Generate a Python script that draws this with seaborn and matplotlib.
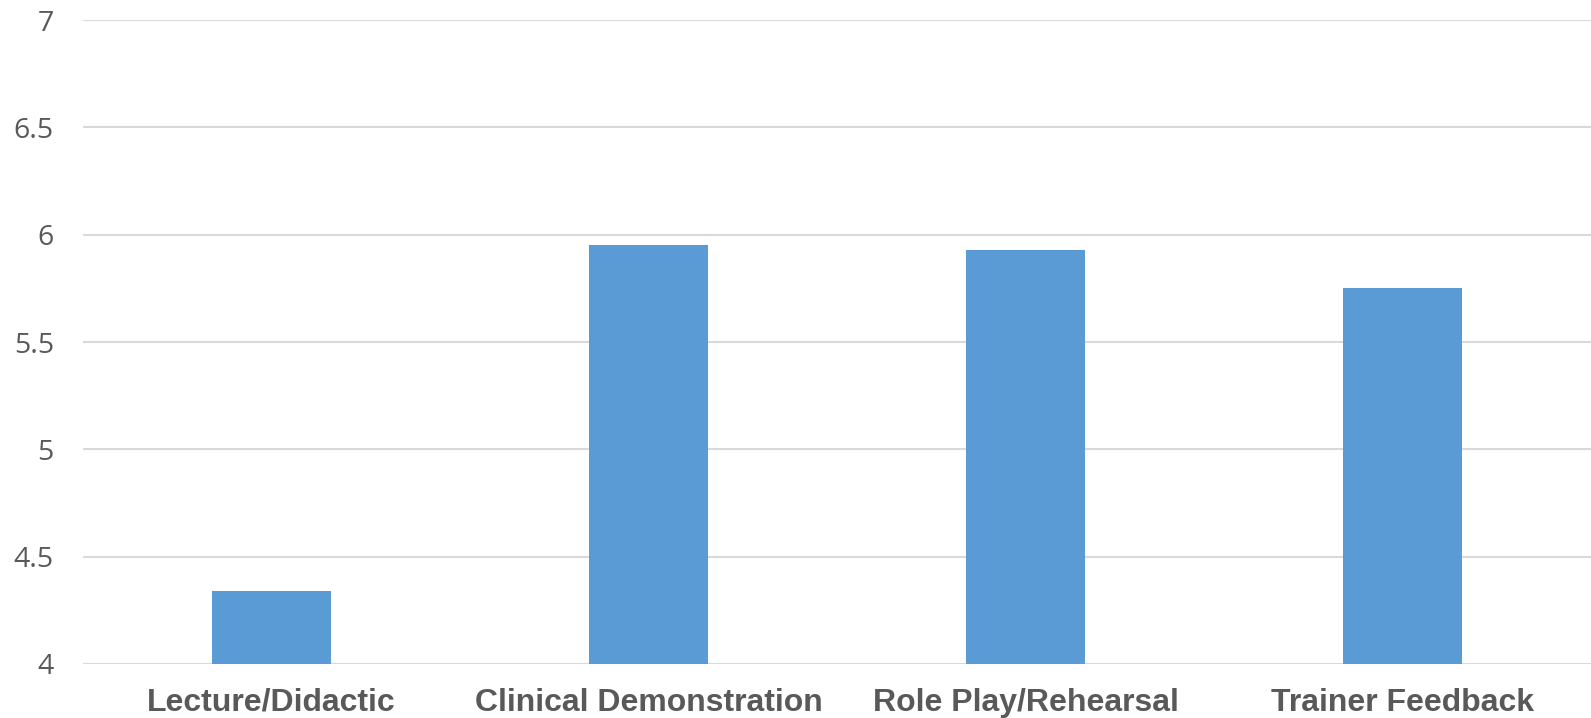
import matplotlib
matplotlib.use("Agg")
import matplotlib.pyplot as plt
import seaborn as sns
import pandas as pd

categories = ["Lecture/Didactic", "Clinical Demonstration", "Role Play/Rehearsal", "Trainer Feedback"]
scores = [4.34, 5.95, 5.93, 5.75]
y_ticks = [4, 4.5, 5, 5.5, 6, 6.5, 7]
y_tick_labels = ["4", "4.5", "5", "5.5", "6", "6.5", "7"]

sns.set_theme(style="white")
plt.rcParams["font.family"] = ["Open Sans", "DejaVu Sans"]

df = pd.DataFrame({"method": categories, "score": scores})

fig = plt.figure(figsize=(15.91, 7.18), dpi=100)
ax = fig.add_axes([83 / 1591, 54 / 718, 1508 / 1591, 644 / 718])

sns.barplot(data=df, x="method", y="score", color="#5B9BD5", saturation=1,
            width=0.313, linewidth=0, ax=ax, zorder=3)

ax.set_ylim(4, 7)
ax.set_xlim(-0.5, 3.5)
ax.set_yticks(y_ticks)
ax.set_yticklabels(y_tick_labels)
ax.yaxis.grid(True, color="#D9D9D9", linewidth=1.5, zorder=0)
ax.set_axisbelow(True)
for s in ax.spines.values():
    s.set_visible(False)
ax.set_xlabel("")
ax.set_ylabel("")
ax.tick_params(axis="y", length=0, pad=21, labelsize=20.5, labelcolor="#595959")
ax.tick_params(axis="x", length=0, pad=17, labelcolor="#595959")
for lab in ax.get_xticklabels():
    lab.set_fontfamily(["Liberation Sans", "DejaVu Sans"])
    lab.set_fontweight("bold")
    lab.set_fontsize(23)

fig.savefig("out.png", dpi=100, facecolor="white")
